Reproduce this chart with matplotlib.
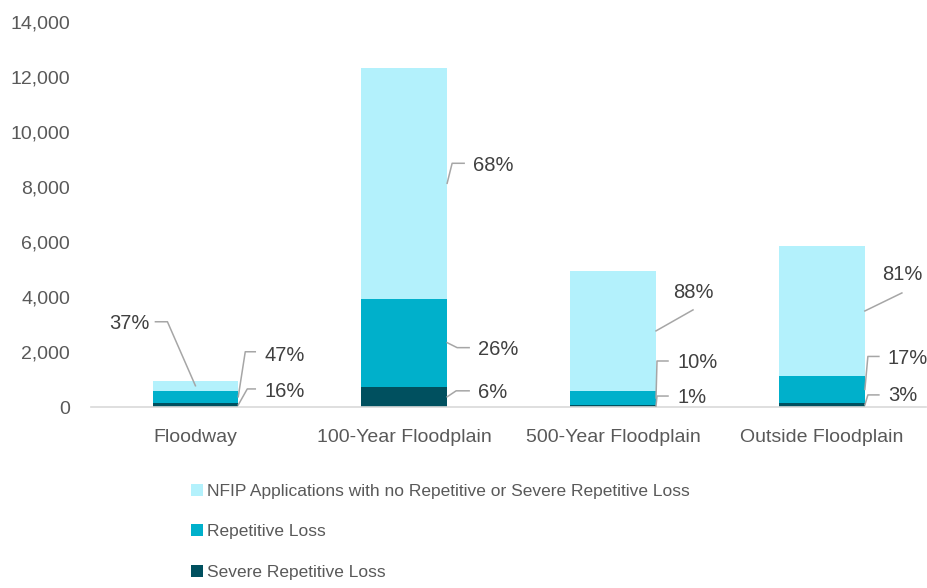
import matplotlib.pyplot as plt
from matplotlib.lines import Line2D
from matplotlib.ticker import FuncFormatter
import numpy as np

plt.rcParams['font.family'] = ['Liberation Sans', 'DejaVu Sans']

# NFIP application counts by flood zone
zones = ['Floodway', '100-Year Floodplain', '500-Year Floodplain', 'Outside Floodplain']
severe = [150, 740, 70, 152]
repetitive = [445, 3200, 515, 973]
no_loss = [355, 8390, 4365, 4735]

series_names = ['NFIP Applications with no Repetitive or Severe Repetitive Loss',
                'Repetitive Loss', 'Severe Repetitive Loss']
colors = ['#B3F1FC', '#00B0CB', '#00505F']
text_col = '#595959'
line_col = '#A6A6A6'

fig = plt.figure(figsize=(9.28, 5.88), dpi=100)
ax = fig.add_axes([91 / 928, 1 - 407 / 588, 835.5 / 928, 385 / 588])

x = np.arange(len(zones))
w = 0.41
sev = np.array(severe, float)
rep = np.array(repetitive, float)
nol = np.array(no_loss, float)
ax.bar(x, sev, w, color=colors[2], label=series_names[2])
ax.bar(x, rep, w, bottom=sev, color=colors[1], label=series_names[1])
ax.bar(x, nol, w, bottom=sev + rep, color=colors[0], label=series_names[0])

ax.set_xlim(-0.5, 3.5)
ax.set_ylim(0, 14000)
ax.set_yticks(np.arange(0, 14001, 2000))
ax.yaxis.set_major_formatter(FuncFormatter(lambda v, p: f'{int(v):,}'))
ax.set_xticks(x)
ax.set_xticklabels(zones)
ax.tick_params(axis='both', length=0, labelsize=14, labelcolor=text_col)
ax.tick_params(axis='y', pad=15)
ax.tick_params(axis='x', pad=16)
for s in ['top', 'right', 'left']:
    ax.spines[s].set_visible(False)
ax.spines['bottom'].set_color('#D9D9D9')
ax.spines['bottom'].set_linewidth(1.2)

# leader-line labels: (anchor side, shoulder dx,dy, end dx,dy, text dx,dy, ha)
# offsets in pixels from the anchor (image y grows downward)
label_layout = [
    # Floodway: no_loss, repetitive, severe
    [('c', -28, -64, -40, -64, -46, -62, 'right'),
     ('r', 7, -45, 17, -45, 26, -41, 'left'),
     ('r', 9, -16, 17, -16, 26, -13, 'left')],
    [('r', 5, -20, 17, -20, 26, -18, 'left'),
     ('r', 10, 5, 22, 5, 31, 7, 'left'),
     ('r', 9, -6, 22, -6, 31, -4, 'left')],
    [('r', 37, -21, 37, -21, 37, -38, 'center'),
     ('r', 1, -37, 12, -37, 21, -35, 'left'),
     ('r', 1, -10, 12, -10, 21, -9, 'left')],
    [('r', 37, -18, 37, -18, 37, -36, 'center'),
     ('r', 3, -33, 14, -33, 23, -31, 'left'),
     ('r', 3, -10, 14, -10, 23, -9, 'left')],
]

tot = sev + rep + nol
for i in range(len(zones)):
    bottoms = [sev[i] + rep[i], sev[i], 0]
    heights = [nol[i], rep[i], sev[i]]
    for k in range(3):
        side, sx, sy, ex, ey, tx, ty, ha = label_layout[i][k]
        xa = x[i] if side == 'c' else x[i] + w / 2
        ax_px, ay_px = ax.transData.transform((xa, bottoms[k] + heights[k] / 2))
        xs = [ax_px, ax_px + sx, ax_px + ex]
        ys = [ay_px, ay_px - sy, ay_px - ey]
        fig.add_artist(Line2D(xs, ys, transform=None, color=line_col, lw=1.1))
        pct = round(100 * heights[k] / tot[i])
        fig.text((ax_px + tx) / 928, (ay_px - ty) / 588, f'{pct}%', ha=ha, va='center',
                 fontsize=14.5, color='#404040')

handles, labels = ax.get_legend_handles_labels()
fig.legend(handles[::-1], labels[::-1], loc='upper left', bbox_to_anchor=(191 / 928, 1 - 484 / 588),
           frameon=False, fontsize=12.5, handlelength=0.7, handleheight=0.7, handletextpad=0.2,
           labelspacing=1.45, borderpad=0, borderaxespad=0, labelcolor=text_col)

fig.savefig('out.png', dpi=100)
